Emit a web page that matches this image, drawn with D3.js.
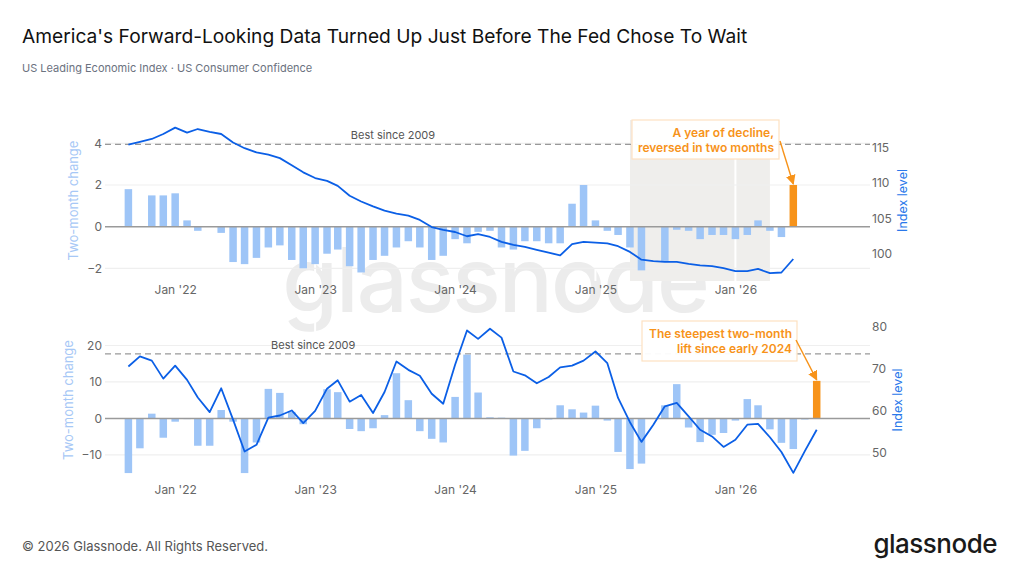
<!DOCTYPE html>
<html lang="en">
<head>
<meta charset="utf-8">
<title>America's Forward-Looking Data</title>
<script src="https://cdn.jsdelivr.net/npm/d3@7"></script>
<style>
  body { margin: 0; background: #fff; }
  svg { display: block; font-family: Inter, "Noto Sans", sans-serif; }
</style>
</head>
<body>
<script>
// monthly categories, Sep 2021 .. Aug 2026
var months = [
  "2021-09","2021-10","2021-11","2021-12",
  "2022-01","2022-02","2022-03","2022-04","2022-05","2022-06","2022-07","2022-08","2022-09","2022-10","2022-11","2022-12",
  "2023-01","2023-02","2023-03","2023-04","2023-05","2023-06","2023-07","2023-08","2023-09","2023-10","2023-11","2023-12",
  "2024-01","2024-02","2024-03","2024-04","2024-05","2024-06","2024-07","2024-08","2024-09","2024-10","2024-11","2024-12",
  "2025-01","2025-02","2025-03","2025-04","2025-05","2025-06","2025-07","2025-08","2025-09","2025-10","2025-11","2025-12",
  "2026-01","2026-02","2026-03","2026-04","2026-05","2026-06","2026-07","2026-08"
];

// US Leading Economic Index (Sep 2021 .. Jun 2026)
var leiChange = [
  1.8, 0, 1.5, 1.5,
  1.6, 0.3, -0.2, 0, -0.3, -1.7, -1.8, -1.5, -1.0, -0.9, -1.6, -2.0,
  -1.8, -1.3, -1.1, -1.9, -2.2, -1.6, -1.4, -1.0, -0.7, -1.0, -1.6, -1.4,
  -0.6, -0.8, -0.25, -0.2, -1.0, -1.1, -0.7, -0.7, -0.8, -0.8, 1.1, 2.0,
  0.3, -0.2, -0.4, -1.0, -2.1, 0, -1.7, -0.15, -0.2, -0.6, -0.4, -0.4,
  -0.6, -0.4, 0.3, -0.2, -0.5, 2.0
];
var leiLevel = [
  115.4, 115.8, 116.2, 116.9,
  117.8, 117.1, 117.6, 117.2, 116.9, 115.7, 114.9, 114.3, 114.0, 113.5, 112.5, 111.5,
  110.7, 110.3, 109.6, 108.2, 107.4, 106.7, 106.1, 105.7, 105.4, 104.8, 103.8, 103.4,
  103.1, 102.5, 102.8, 102.4, 101.7, 101.3, 101.0, 100.6, 100.2, 99.8, 101.4, 101.7,
  101.6, 101.5, 101.1, 100.3, 99.2, 99.0, 98.9, 98.9, 98.6, 98.4, 98.3, 98.0,
  97.6, 97.6, 97.9, 97.3, 97.4, 99.3
];

// US Consumer Confidence (Sep 2021 .. Aug 2026)
var cciChange = [
  -15.0, -8.2, 1.3, -5.3,
  -0.9, -0.2, -7.5, -7.5, 2.3, -0.9, -15.0, -6.6, 8.1, 7.0, 1.8, -1.6,
  -0.2, 8.0, 7.2, -2.9, -3.5, -2.7, 0.9, 12.4, 5.0, -3.5, -5.6, -6.6,
  5.9, 17.5, 7.1, 0.3, 0.2, -10.2, -8.9, -2.7, -0.3, 3.6, 2.5, 1.6,
  3.5, -0.6, -9.2, -13.9, -12.4, 0, 3.6, 9.4, -2.5, -6.5, -4.5, -4.0,
  -0.6, 5.3, 3.6, -3.0, -6.7, -8.4, -0.3, 10.3
];
var cciLevel = [
  70.5, 72.9, 71.9, 67.6,
  70.7, 67.3, 63.1, 59.6, 65.3, 57.8, 50.2, 51.8, 58.3, 58.8, 60.0, 57.0,
  59.9, 65.2, 67.2, 62.1, 63.7, 59.4, 64.4, 71.7, 69.7, 68.3, 64.0, 61.6,
  70.9, 79.1, 77.1, 79.5, 77.4, 69.3, 68.4, 66.5, 68.0, 70.3, 70.7, 71.9,
  74.1, 71.3, 63.0, 57.2, 52.5, 56.6, 61.0, 61.8, 58.6, 55.4, 53.8, 51.3,
  53.0, 56.6, 56.8, 53.6, 50.1, 45.1, 50.3, 55.4
];

var xTicks = ["2022-01", "2023-01", "2024-01", "2025-01", "2026-01"];
var leiTicksLeft = [-2, 0, 2, 4];
var leiTicksRight = [100, 105, 110, 115];
var cciTicksLeft = [-10, 0, 10, 20];
var cciTicksRight = [50, 60, 70, 80];
var leiBest = 3.95;
var cciBest = 17.7;
var shadeRange = ["2025-04", "2026-04"];

var w = 1024, h = 576;
var parse = d3.timeParse("%Y-%m");
var blue = "#0b5fe6", barBlue = "#9ec5f7", orange = "#f7931a";

var svg = d3.select("body").append("svg")
  .attr("width", w).attr("height", h);

// title, subtitle
svg.append("text").attr("x", 22).attr("y", 43)
  .attr("font-size", 19.2).attr("fill", "#111")
  .text("America's Forward-Looking Data Turned Up Just Before The Fed Chose To Wait");
svg.append("text").attr("x", 22).attr("y", 72)
  .attr("font-size", 11).attr("fill", "#6b7280")
  .text("US Leading Economic Index \u00b7 US Consumer Confidence");

// watermark
svg.append("text").attr("x", 495).attr("y", 312)
  .attr("text-anchor", "middle").attr("font-size", 90).attr("font-weight", 500)
  .attr("fill", "#ececec").attr("letter-spacing", -2)
  .text("glassnode");

var x = d3.scaleTime()
  .domain([new Date(2021, 6, 2), new Date(2026, 11, 18)])
  .range([105, 870]);

var defs = svg.append("defs");
defs.append("marker").attr("id", "arrow")
  .attr("viewBox", "0 0 10 10").attr("refX", 9).attr("refY", 5)
  .attr("markerWidth", 7).attr("markerHeight", 7).attr("orient", "auto")
  .append("path").attr("d", "M0,0 L10,5 L0,10 z").attr("fill", orange);

function panel(opt) {
  var g = svg.append("g");
  var dates = months.slice(0, opt.change.length).map(parse);
  var yL = d3.scaleLinear().domain(opt.leftDomain).range([opt.bottom, opt.top]);
  var yR = d3.scaleLinear().domain(opt.rightDomain).range([opt.bottom, opt.top]);
  var last = opt.change.length - 1;

  if (opt.shade) {
    g.append("rect")
      .attr("x", x(parse(opt.shade[0])))
      .attr("width", x(parse(opt.shade[1])) - x(parse(opt.shade[0])))
      .attr("y", opt.top).attr("height", opt.bottom - opt.top)
      .attr("fill", "#efeeec");
  }
  // vertical grid (white, only visible on shade)
  g.selectAll(".vgrid").data(xTicks.map(parse)).enter().append("line")
    .attr("x1", d => x(d)).attr("x2", d => x(d))
    .attr("y1", opt.top).attr("y2", opt.bottom)
    .attr("stroke", "#fff").attr("stroke-width", 2);

  // horizontal grid
  g.selectAll(".hgrid").data(opt.ticksLeft.filter(d => d !== 0)).enter().append("line")
    .attr("x1", 105).attr("x2", 870)
    .attr("y1", d => yL(d)).attr("y2", d => yL(d))
    .attr("stroke", "#efefef").attr("stroke-width", 1.2);

  // best since 2009
  g.append("line").attr("x1", 105).attr("x2", 870)
    .attr("y1", yL(opt.best)).attr("y2", yL(opt.best))
    .attr("stroke", "#999").attr("stroke-width", 1.3).attr("stroke-dasharray", "6,4");
  g.append("text").attr("x", x(opt.bestLabelAt)).attr("y", yL(opt.best) - 5)
    .attr("text-anchor", "middle").attr("font-size", 11).attr("fill", "#555")
    .text("Best since 2009");

  // bars
  var bw = 7.5;
  g.selectAll(".bar").data(opt.change).enter().append("rect")
    .attr("x", (d, i) => x(dates[i]) - bw / 2)
    .attr("width", bw)
    .attr("y", d => yL(Math.max(0, d)))
    .attr("height", d => Math.abs(yL(d) - yL(0)))
    .attr("fill", (d, i) => i === last ? orange : barBlue);

  // zero line
  g.append("line").attr("x1", 105).attr("x2", 870)
    .attr("y1", yL(0)).attr("y2", yL(0))
    .attr("stroke", "#9a9a9a").attr("stroke-width", 1.5);

  // level line
  var line = d3.line().x((d, i) => x(dates[i])).y(d => yR(d));
  g.append("path").datum(opt.level).attr("d", line)
    .attr("fill", "none").attr("stroke", blue).attr("stroke-width", 1.8)
    .attr("stroke-linejoin", "round");

  // axes
  var xAxis = d3.axisBottom(x).tickValues(xTicks.map(parse))
    .tickFormat(d3.timeFormat("Jan '%y")).tickSize(0).tickPadding(opt.xPad);
  var ax = g.append("g").attr("transform", "translate(0," + opt.bottom + ")").call(xAxis);
  var al = g.append("g").attr("transform", "translate(104,0)")
    .call(d3.axisLeft(yL).tickValues(opt.ticksLeft).tickSize(0).tickPadding(2)
      .tickFormat(d => d < 0 ? "\u2212" + Math.abs(d) : d));
  var ar = g.append("g").attr("transform", "translate(870,0)")
    .call(d3.axisRight(yR).tickValues(opt.ticksRight).tickSize(0).tickPadding(2));
  [ax, al, ar].forEach(function (a) {
    a.select(".domain").remove();
    a.selectAll("text").attr("font-family", "Inter, sans-serif")
      .attr("font-size", 12).attr("fill", "#666");
  });

  // axis titles
  g.append("text")
    .attr("transform", "translate(" + opt.leftTitleX + "," + (opt.top + opt.bottom) / 2 + ") rotate(-90)")
    .attr("text-anchor", "middle").attr("dy", "0.35em")
    .attr("font-size", 13).attr("fill", "#a7c8f6").text("Two-month change");
  g.append("text")
    .attr("transform", "translate(" + opt.rightTitleX + "," + (opt.top + opt.bottom) / 2 + ") rotate(-90)")
    .attr("text-anchor", "middle").attr("dy", "0.35em")
    .attr("font-size", 12.5).attr("fill", "#2a78ea").text("Index level");

  // annotation
  var b = opt.box;
  g.append("rect").attr("x", b.x).attr("y", b.y).attr("width", b.w).attr("height", b.h)
    .attr("fill", "#fff").attr("fill-opacity", 0.95)
    .attr("stroke", "#fde2c2").attr("stroke-width", 1.2);
  var t = g.append("text").attr("text-anchor", "end")
    .attr("font-size", 12).attr("font-weight", 600).attr("fill", orange);
  b.lines.forEach(function (s, i) {
    t.append("tspan").attr("x", b.x + b.w - 5).attr("y", b.y + 17 + i * 15).text(s);
  });
  g.append("line")
    .attr("x1", b.ax).attr("y1", b.ay)
    .attr("x2", x(dates[last])).attr("y2", yL(opt.change[last]) - 1)
    .attr("stroke", orange).attr("stroke-width", 1.4)
    .attr("marker-end", "url(#arrow)");
}

panel({
  change: leiChange, level: leiLevel,
  top: 120, bottom: 281,
  leftDomain: [-2.61, 5.12], rightDomain: [96.2, 118.87],
  ticksLeft: leiTicksLeft, ticksRight: leiTicksRight,
  best: leiBest, bestLabelAt: new Date(2023, 6, 23),
  shade: shadeRange, xPad: 4,
  leftTitleX: 73, rightTitleX: 903,
  box: { x: 632, y: 120, w: 147, h: 39, ax: 780, ay: 141,
    lines: ["A year of decline,", "reversed in two months"] }
});

panel({
  change: cciChange, level: cciLevel,
  top: 320, bottom: 480,
  leftDomain: [-16.9, 27.0], rightDomain: [43.4, 81.6],
  ticksLeft: cciTicksLeft, ticksRight: cciTicksRight,
  best: cciBest, bestLabelAt: new Date(2022, 11, 27),
  shade: null, xPad: 5,
  leftTitleX: 68, rightTitleX: 898,
  box: { x: 642, y: 321, w: 155, h: 40, ax: 796, ay: 340,
    lines: ["The steepest two-month", "lift since early 2024"] }
});

// footer
svg.append("text").attr("x", 22).attr("y", 551)
  .attr("font-size", 13).attr("fill", "#555")
  .text("\u00a9 2026 Glassnode. All Rights Reserved.");
svg.append("text").attr("x", 997).attr("y", 553)
  .attr("text-anchor", "end").attr("font-size", 26).attr("font-weight", 500)
  .attr("fill", "#1a1a1a").attr("letter-spacing", -0.5)
  .text("glassnode");
</script>
</body>
</html>
